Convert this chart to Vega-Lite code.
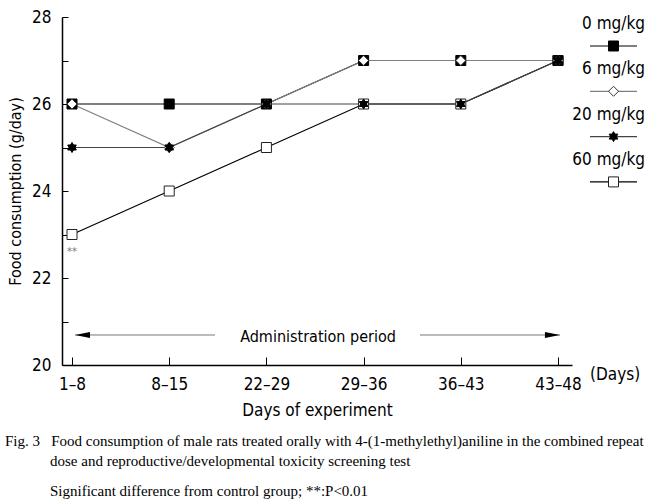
{
  "$schema": "https://vega.github.io/schema/vega-lite/v6.json",
  "width": 510,
  "height": 348,
  "autosize": {"type": "none"},
  "padding": {"left": 62, "top": 17, "right": 83, "bottom": 136},
  "background": "white",
  "config": {
    "view": {"stroke": null},
    "font": "DejaVu Sans Condensed, Liberation Sans Narrow, sans-serif"
  },
  "datasets": {
    "food": [
      {"s": "60 mg/kg", "i": 0, "v": 23},
      {"s": "60 mg/kg", "i": 1, "v": 24},
      {"s": "60 mg/kg", "i": 2, "v": 25},
      {"s": "60 mg/kg", "i": 3, "v": 26},
      {"s": "60 mg/kg", "i": 4, "v": 26},
      {"s": "60 mg/kg", "i": 5, "v": 27},
      {"s": "0 mg/kg", "i": 0, "v": 26},
      {"s": "0 mg/kg", "i": 1, "v": 26},
      {"s": "0 mg/kg", "i": 2, "v": 26},
      {"s": "0 mg/kg", "i": 3, "v": 27},
      {"s": "0 mg/kg", "i": 4, "v": 27},
      {"s": "0 mg/kg", "i": 5, "v": 27},
      {"s": "6 mg/kg", "i": 0, "v": 26},
      {"s": "6 mg/kg", "i": 1, "v": 25},
      {"s": "6 mg/kg", "i": 2, "v": 26},
      {"s": "6 mg/kg", "i": 3, "v": 27},
      {"s": "6 mg/kg", "i": 4, "v": 27},
      {"s": "6 mg/kg", "i": 5, "v": 27},
      {"s": "20 mg/kg", "i": 0, "v": 25},
      {"s": "20 mg/kg", "i": 1, "v": 25},
      {"s": "20 mg/kg", "i": 2, "v": 26},
      {"s": "20 mg/kg", "i": 3, "v": 26},
      {"s": "20 mg/kg", "i": 4, "v": 26},
      {"s": "20 mg/kg", "i": 5, "v": 27}
    ],
    "legend": [
      {"s": "0 mg/kg", "rank": 0},
      {"s": "6 mg/kg", "rank": 1},
      {"s": "20 mg/kg", "rank": 2},
      {"s": "60 mg/kg", "rank": 3}
    ],
    "one": [{"note": "annotation"}]
  },
  "title": {
    "text": [
      "Fig. 3\u00a0\u00a0\u00a0Food consumption of male rats treated orally with 4-(1-methylethyl)aniline in the combined repeat",
      "\u200b\u00a0\u00a0\u00a0\u00a0\u00a0\u00a0\u00a0\u00a0\u00a0\u00a0\u00a0\u00a0dose and reproductive/developmental toxicity screening test"
    ],
    "subtitle": "\u200b\u00a0\u00a0\u00a0\u00a0\u00a0\u00a0\u00a0\u00a0\u00a0\u00a0\u00a0\u00a0Significant difference from control group; **:P<0.01",
    "orient": "bottom",
    "anchor": "start",
    "frame": "group",
    "dx": -57,
    "offset": 16,
    "font": "Liberation Serif",
    "fontSize": 15,
    "fontWeight": "normal",
    "lineHeight": 20,
    "color": "black",
    "subtitleFont": "Liberation Serif",
    "subtitleFontSize": 15,
    "subtitleColor": "black",
    "subtitlePadding": 15
  },
  "resolve": {"scale": {"y": "independent"}},
  "layer": [
    {
      "layer": [
        {
          "data": {"name": "food"},
          "mark": {"type": "line", "strokeWidth": 1.2},
          "encoding": {
            "x": {
              "field": "i",
              "type": "quantitative",
              "scale": {"domain": [-0.103, 5.144], "nice": false, "zero": false},
              "axis": {
                "values": [0, 1, 2, 3, 4, 5],
                "labelExpr": "['1–8','8–15','22–29','29–36','36–43','43–48'][datum.value]",
                "title": "Days of experiment",
                "grid": false,
                "tickSize": -8,
                "labelPadding": 19,
                "labelFontSize": 17,
                "labelColor": "black",
                "titleFontSize": 17,
                "titleFontWeight": "normal",
                "titleColor": "black",
                "titlePadding": 10,
                "domainColor": "black",
                "domainWidth": 1.5,
                "tickColor": "black",
                "labelFlush": false
              }
            },
            "y": {
              "field": "v",
              "type": "quantitative",
              "scale": {"domain": [20, 28], "nice": false, "zero": false},
              "axis": {
                "values": [20, 21, 22, 23, 24, 25, 26, 27, 28],
                "labelExpr": "datum.value % 2 == 0 ? datum.label : ''",
                "title": "Food consumption (g/day)",
                "grid": false,
                "tickSize": -6,
                "labelPadding": 17,
                "labelFontSize": 17,
                "labelColor": "black",
                "titleFontSize": 16,
                "titleFontWeight": "normal",
                "titleColor": "black",
                "titlePadding": 8,
                "domainColor": "black",
                "domainWidth": 1.5,
                "tickColor": "black"
              }
            },
            "color": {
              "field": "s",
              "type": "nominal",
              "scale": {
                "domain": ["0 mg/kg", "6 mg/kg", "20 mg/kg", "60 mg/kg"],
                "range": ["#000000", "#808080", "#444444", "#000000"]
              },
              "legend": null
            }
          }
        },
        {
          "data": {"name": "food"},
          "mark": {"type": "point", "strokeWidth": 1, "opacity": 1, "size": 100},
          "encoding": {
            "x": {"field": "i", "type": "quantitative"},
            "y": {"field": "v", "type": "quantitative"},
            "shape": {
              "field": "s",
              "type": "nominal",
              "scale": {
                "domain": ["0 mg/kg", "6 mg/kg", "20 mg/kg", "60 mg/kg"],
                "range": ["square", "diamond", "M0,-1L0.866,0.5L-0.866,0.5ZM0,1L-0.866,-0.5L0.866,-0.5Z", "square"]
              },
              "legend": null
            },
            "fill": {
              "field": "s",
              "type": "nominal",
              "scale": {
                "domain": ["0 mg/kg", "6 mg/kg", "20 mg/kg", "60 mg/kg"],
                "range": ["#000000", "#ffffff", "#000000", "#ffffff"]
              },
              "legend": null
            },
            "stroke": {
              "field": "s",
              "type": "nominal",
              "scale": {
                "domain": ["0 mg/kg", "6 mg/kg", "20 mg/kg", "60 mg/kg"],
                "range": ["#000000", "#333333", "#000000", "#222222"]
              },
              "legend": null
            }
          }
        },
        {
          "data": {"name": "one"},
          "mark": {"type": "text", "fontSize": 11, "color": "#777777", "baseline": "middle"},
          "encoding": {"x": {"datum": 0}, "y": {"datum": 22.6}, "text": {"value": "**"}}
        },
        {
          "data": {"name": "one"},
          "mark": {"type": "rule", "color": "#777777", "strokeWidth": 1},
          "encoding": {"x": {"datum": 0.031}, "x2": {"datum": 1.471}, "y": {"datum": 20.69}}
        },
        {
          "data": {"name": "one"},
          "mark": {"type": "rule", "color": "#777777", "strokeWidth": 1},
          "encoding": {"x": {"datum": 3.58}, "x2": {"datum": 5.021}, "y": {"datum": 20.69}}
        },
        {
          "data": {"name": "one"},
          "mark": {"type": "point", "filled": true, "color": "black", "opacity": 1, "size": 225, "shape": "M-1,0L1,-0.4L1,0.4Z"},
          "encoding": {"x": {"datum": 0.108}, "y": {"datum": 20.69}}
        },
        {
          "data": {"name": "one"},
          "mark": {"type": "point", "filled": true, "color": "black", "opacity": 1, "size": 225, "shape": "M1,0L-1,-0.4L-1,0.4Z"},
          "encoding": {"x": {"datum": 4.943}, "y": {"datum": 20.69}}
        },
        {
          "data": {"name": "one"},
          "mark": {"type": "text", "fontSize": 16, "color": "black", "baseline": "middle", "align": "center"},
          "encoding": {"x": {"datum": 2.531}, "y": {"datum": 20.644}, "text": {"value": "Administration period"}}
        },
        {
          "data": {"name": "one"},
          "mark": {"type": "text", "fontSize": 17, "color": "black", "baseline": "middle", "align": "left"},
          "encoding": {"x": {"datum": 5.33}, "y": {"datum": 19.77}, "text": {"value": "(Days)"}}
        }
      ]
    },
    {
      "data": {"name": "legend"},
      "layer": [
        {
          "mark": {"type": "rule", "strokeWidth": 1.2},
          "encoding": {
            "x": {"datum": 5.329},
            "x2": {"datum": 5.813},
            "y": {
              "field": "rank",
              "type": "quantitative",
              "scale": {"domain": [-0.64, 7.042], "nice": false, "zero": false, "reverse": true},
              "axis": null
            },
            "color": {"field": "s", "type": "nominal", "legend": null}
          }
        },
        {
          "mark": {"type": "point", "strokeWidth": 1, "opacity": 1, "size": 100},
          "encoding": {
            "x": {"datum": 5.571},
            "y": {"field": "rank", "type": "quantitative"},
            "shape": {"field": "s", "type": "nominal", "legend": null},
            "fill": {"field": "s", "type": "nominal", "legend": null},
            "stroke": {"field": "s", "type": "nominal", "legend": null}
          }
        },
        {
          "mark": {"type": "text", "fontSize": 17, "color": "black", "baseline": "middle", "align": "right", "dy": -22},
          "encoding": {
            "x": {"datum": 5.895},
            "y": {"field": "rank", "type": "quantitative"},
            "text": {"field": "s"}
          }
        }
      ]
    }
  ]
}
